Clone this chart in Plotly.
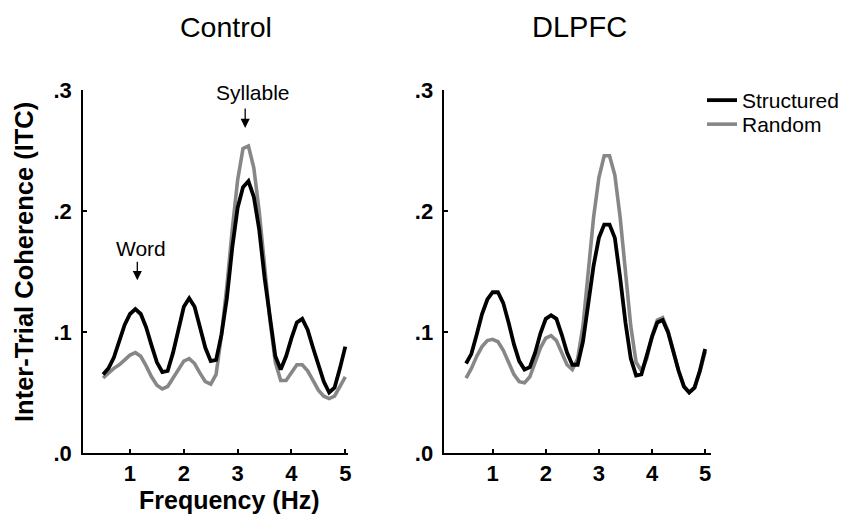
import plotly.graph_objects as go

freq = [0.5, 0.6, 0.7, 0.8, 0.9, 1.0, 1.1, 1.2, 1.3, 1.4, 1.5, 1.6, 1.7, 1.8, 1.9,
        2.0, 2.1, 2.2, 2.3, 2.4, 2.5, 2.6, 2.7, 2.8, 2.9, 3.0, 3.1, 3.2, 3.3, 3.4,
        3.5, 3.6, 3.7, 3.8, 3.9, 4.0, 4.1, 4.2, 4.3, 4.4, 4.5, 4.6, 4.7, 4.8, 4.9, 5.0]

control_structured = [0.065, 0.070, 0.079, 0.092, 0.106, 0.115, 0.119, 0.115, 0.104, 0.089,
                      0.075, 0.067, 0.068, 0.083, 0.103, 0.121, 0.128, 0.121, 0.104, 0.087,
                      0.076, 0.077, 0.098, 0.128, 0.170, 0.203, 0.220, 0.225, 0.212, 0.185,
                      0.145, 0.110, 0.080, 0.069, 0.080, 0.095, 0.108, 0.111, 0.102, 0.087,
                      0.072, 0.059, 0.050, 0.054, 0.070, 0.088]
control_random = [0.062, 0.066, 0.070, 0.073, 0.077, 0.081, 0.083, 0.080, 0.072, 0.063,
                  0.056, 0.053, 0.055, 0.062, 0.070, 0.076, 0.078, 0.074, 0.066, 0.059,
                  0.057, 0.065, 0.098, 0.138, 0.185, 0.226, 0.252, 0.254, 0.236, 0.200,
                  0.155, 0.110, 0.075, 0.060, 0.060, 0.067, 0.073, 0.073, 0.068, 0.060,
                  0.052, 0.047, 0.045, 0.047, 0.055, 0.063]
dlpfc_structured = [0.074, 0.082, 0.098, 0.115, 0.127, 0.133, 0.133, 0.124, 0.108, 0.090,
                    0.076, 0.069, 0.071, 0.083, 0.099, 0.111, 0.114, 0.111, 0.098, 0.083,
                    0.073, 0.073, 0.092, 0.125, 0.155, 0.178, 0.189, 0.189, 0.178, 0.145,
                    0.108, 0.078, 0.064, 0.065, 0.080, 0.096, 0.108, 0.110, 0.100, 0.084,
                    0.068, 0.055, 0.050, 0.054, 0.068, 0.086]
dlpfc_random = [0.062, 0.070, 0.080, 0.088, 0.093, 0.094, 0.092, 0.085, 0.075, 0.065,
                0.059, 0.058, 0.063, 0.074, 0.087, 0.095, 0.097, 0.093, 0.083, 0.073,
                0.069, 0.078, 0.105, 0.150, 0.195, 0.228, 0.246, 0.246, 0.230, 0.195,
                0.147, 0.105, 0.075, 0.068, 0.078, 0.097, 0.110, 0.112, 0.101, 0.085,
                0.068, 0.055, 0.050, 0.054, 0.067, 0.084]

x_ticks = [1, 2, 3, 4, 5]
x_ticktext = ["1", "2", "3", "4", "5"]
y_ticks = [0, 0.1, 0.2, 0.3]
y_ticktext = [".0", ".1", ".2", ".3"]

panel_titles = ["Control", "DLPFC"]
series_names = ["Structured", "Random"]

BLACK = "#000000"
GRAY = "#878787"
FONT = "Liberation Sans"
W, H = 844, 520

fig = go.Figure()

# gray drawn first, black on top
fig.add_trace(go.Scatter(x=freq, y=control_random, mode="lines", name=series_names[1],
                         line=dict(color=GRAY, width=3.6), xaxis="x", yaxis="y",
                         showlegend=False))
fig.add_trace(go.Scatter(x=freq, y=control_structured, mode="lines", name=series_names[0],
                         line=dict(color=BLACK, width=3.8), xaxis="x", yaxis="y",
                         showlegend=False))
fig.add_trace(go.Scatter(x=freq, y=dlpfc_random, mode="lines", name=series_names[1],
                         line=dict(color=GRAY, width=3.6), xaxis="x2", yaxis="y2",
                         showlegend=True, legend="legend2"))
fig.add_trace(go.Scatter(x=freq, y=dlpfc_structured, mode="lines", name=series_names[0],
                         line=dict(color=BLACK, width=3.8), xaxis="x2", yaxis="y2",
                         showlegend=True, legend="legend"))

tickfont = dict(family=FONT, size=22, color="black", weight="bold")
common_x = dict(showgrid=False, zeroline=False, showline=True, linecolor="black",
                linewidth=1.5, ticks="inside", ticklen=4, tickwidth=1.5, tickcolor="black",
                tickvals=x_ticks, ticktext=x_ticktext, tickfont=tickfont,
                ticklabelstandoff=0)
common_y = dict(showgrid=False, zeroline=False, showline=True, linecolor="black",
                linewidth=1.5, ticks="inside", ticklen=4, tickwidth=1.5, tickcolor="black",
                tickvals=y_ticks, ticktext=y_ticktext, tickfont=tickfont, range=[0, 0.3],
                domain=[0.129, 0.826], ticklabelstandoff=5)

legend_common = dict(xanchor="left", yanchor="top",
                     font=dict(family=FONT, size=21, color="black"),
                     bgcolor="rgba(0,0,0,0)")

fig.update_layout(
    width=W, height=H,
    margin=dict(l=0, r=0, t=0, b=0, autoexpand=False),
    paper_bgcolor="white", plot_bgcolor="white",
    xaxis=dict(common_x, domain=[83 / W, 348 / W], range=[0.127, 5.05], anchor="y"),
    yaxis=dict(common_y, anchor="x"),
    xaxis2=dict(common_x, domain=[444.3 / W, 711 / W], range=[0.09, 5.11], anchor="y2"),
    yaxis2=dict(common_y, anchor="x2"),
    legend=dict(legend_common, x=702 / W, y=1 - 80 / H),
    legend2=dict(legend_common, x=702 / W, y=1 - 104 / H),
    showlegend=True,
)

def paper_text(text, xp, yp, size, bold=False, angle=0):
    return dict(text=text, x=xp / W, y=1 - yp / H, xref="paper", yref="paper",
                xanchor="center", yanchor="middle", showarrow=False, textangle=angle,
                font=dict(family=FONT, size=size, color="black",
                          weight="bold" if bold else "normal"))

def arrow(x, y, length):
    return dict(text="", x=x, y=y, xref="x", yref="y", showarrow=True,
                ax=0, ay=-length, arrowhead=2, arrowsize=1.4, arrowwidth=1.3,
                arrowcolor="black")

def label(text, x, y, shift_px):
    return dict(text=text, x=x, y=y, xref="x", yref="y", showarrow=False,
                xanchor="center", yanchor="middle", yshift=shift_px,
                font=dict(family=FONT, size=21, color="black"))

annotations = [
    paper_text(panel_titles[0], 226, 27, 28.5),
    paper_text(panel_titles[1], 579, 27, 29),
    paper_text("Inter-Trial Coherence (ITC)", 24, 262, 25.5, bold=True, angle=-90),
    paper_text("Frequency (Hz)", 229, 500, 25, bold=True),
    arrow(3.14, 0.269, 21),
    label("Syllable", 3.29, 0.269, 35),
    arrow(1.136, 0.143, 20),
    label("Word", 1.21, 0.143, 32),
]
fig.update_layout(annotations=annotations)

fig.write_html("out.html")
